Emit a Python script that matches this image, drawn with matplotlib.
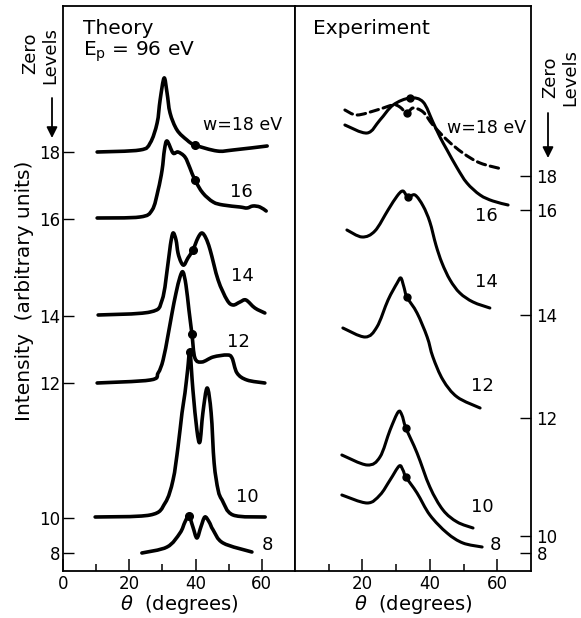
import numpy as np
import matplotlib.pyplot as plt
from matplotlib.path import Path
from matplotlib.patches import PathPatch, FancyArrowPatch

plt.rcParams['font.family'] = ['DejaVu Sans']
plt.rcParams['mathtext.fontset'] = 'dejavusans'

# ---- zero levels (plot units) and their labels ----
level_labels = ['18', '16', '14', '12', '10', '8']
theory_zero = [419, 352, 255, 188, 53, 18]
exper_zero = [395, 361, 256, 153, 35, 18]

# ---- Theory curves: angle (deg), intensity above zero level ----
t18_theta = [10.3, 23.2, 26.3, 28.4, 29.3, 30.5, 31.4, 32.3, 34.4, 37.4, 39.8, 46.5, 51.3, 61.6]
t18_int = [0, 2, 9, 29, 52, 74, 59, 39, 22, 12, 7, 1, 2, 6]
t16_theta = [10.3, 23.2, 26.9, 28.7, 29.9, 30.6, 31.4, 33.2, 34.7, 36.8, 38.3, 39.8, 42.2,
             45.3, 48.3, 53.4, 55.5, 57.3, 59.4, 61.3]
t16_int = [1, 2, 9, 29, 49, 69, 78, 66, 67, 62, 51, 39, 26, 17, 14, 12, 11, 13, 12, 8]
t14_theta = [10.6, 26.3, 29.9, 31.7, 32.4, 33.2, 34.1, 34.7, 35.6, 36.5, 37.7, 39.2, 40.7,
             41.9, 43.1, 44.4, 46.8, 49.5, 51.3, 53.4, 55.2, 57.9, 60.9]
t14_int = [1, 4, 16, 53, 71, 83, 76, 63, 54, 51, 58, 66, 78, 83, 78, 66, 36, 16, 11, 14, 16, 8, 3]
t12_theta = [10.3, 26.3, 28.7, 30.2, 31.7, 32.9, 34.1, 35.3, 36.2, 37.1, 38.0, 38.9, 39.8,
             41.9, 45.3, 49.5, 51.0, 52.5, 55.5, 60.9]
t12_int = [0, 3, 10, 23, 48, 70, 90, 106, 111, 98, 73, 49, 25, 21, 26, 28, 25, 10, 3, 0]
t10_theta = [9.7, 26.3, 30.8, 33.2, 34.7, 35.9, 36.8, 37.6, 38.3, 39.2, 40.4, 41.3, 42.2,
             43.5, 44.7, 45.6, 46.8, 48.0, 51.3, 61.0]
t10_int = [1, 3, 15, 38, 71, 105, 125, 148, 166, 128, 88, 76, 105, 130, 105, 55, 28, 18, 3, 1]
t8_theta = [23.8, 31.4, 35.3, 36.8, 38.0, 39.2, 40.4, 41.6, 42.8, 44.1, 45.3, 48.3, 57.0]
t8_int = [0, 6, 20, 31, 37, 26, 15, 26, 36, 31, 23, 10, 1]

# marked points on theory curves
t_dot_theta = [39.8, 39.8, 39.2, 38.9, 38.3, 38.0]
t_dot_int = [7, 39, 66, 49, 166, 37]

# ---- Experiment curves ----
e18_theta = [14.8, 18.4, 24.3, 29.1, 31.1, 33.2, 35.0, 38.0, 40.9, 45.1, 49.8, 54.9, 61.4]
e18_int = [66, 61, 66, 71, 69, 63, 68, 64, 51, 36, 23, 13, 7]
e16_theta = [14.8, 21.4, 25.2, 29.1, 34.1, 38.0, 40.9, 43.0, 45.1, 48.1, 51.0, 54.9, 58.7, 63.2]
e16_int = [85, 77, 90, 105, 112, 108, 88, 73, 60, 42, 27, 15, 9, 5]
e14_theta = [15.4, 19.9, 23.7, 27.6, 30.3, 32.0, 33.5, 35.6, 38.0, 40.0, 41.8, 43.6, 46.0,
             48.9, 52.8, 57.8]
e14_int = [85, 78, 84, 105, 119, 124, 118, 120, 109, 93, 70, 52, 35, 22, 13, 7]
e12_theta = [14.2, 20.8, 24.3, 27.6, 30.3, 31.4, 32.3, 33.2, 36.2, 39.2, 40.9, 43.9, 48.1, 54.9]
e12_int = [90, 81, 91, 118, 135, 140, 131, 121, 105, 81, 61, 38, 21, 10]
e10_theta = [13.9, 21.4, 25.2, 28.2, 30.6, 31.7, 32.9, 36.2, 40.0, 43.9, 48.1, 52.8]
e10_int = [81, 71, 79, 106, 124, 121, 108, 83, 49, 26, 14, 8]
e8_theta = [13.9, 21.4, 25.2, 28.2, 30.9, 32.0, 32.9, 36.2, 40.0, 45.1, 49.8, 55.5]
e8_int = [58, 50, 58, 73, 87, 83, 76, 60, 38, 20, 10, 6]

e_dot_theta = [33.2, 34.1, 33.5, 33.2, 32.9, 32.9]
e_dot_int = [63, 112, 118, 121, 108, 76]


def smooth_path(x, y):
    # Catmull-Rom curve through the read points, as cubic Bezier segments
    pts = np.column_stack([x, y]).astype(float)
    verts = [pts[0]]
    codes = [Path.MOVETO]
    n = len(pts)
    for i in range(n - 1):
        p0 = pts[i - 1] if i > 0 else pts[i]
        p1 = pts[i]
        p2 = pts[i + 1]
        p3 = pts[i + 2] if i + 2 < n else pts[i + 1]
        verts += [p1 + (p2 - p0) / 6, p2 - (p3 - p1) / 6, p2]
        codes += [Path.CURVE4] * 3
    return Path(verts, codes)


def draw_curve(ax, theta, inten, zero, lw, ls='-'):
    y = np.asarray(inten) + zero
    ax.add_patch(PathPatch(smooth_path(theta, y), fill=False, lw=lw, ls=ls,
                           edgecolor='black', capstyle='round', joinstyle='round'))


W, H = 581, 618
fig = plt.figure(figsize=(W / 100, H / 100), dpi=100)
ax1 = fig.add_axes([63 / W, 1 - 571 / H, 232 / W, 565 / H])
ax2 = fig.add_axes([295 / W, 1 - 571 / H, 236 / W, 565 / H])

for ax in (ax1, ax2):
    ax.set_xlim(0, 70)
    ax.set_ylim(0, 565)
    for s in ax.spines.values():
        s.set_linewidth(1.3)
    ax.set_xticks([10, 30, 50], minor=True)
    ax.tick_params(axis='x', which='major', direction='in', length=9, width=1.1,
                   labelsize=12, pad=3)
    ax.tick_params(axis='x', which='minor', direction='in', length=5, width=1.1)
    ax.tick_params(axis='y', direction='in', length=8, width=1.0, labelsize=12)
    ax.set_xlabel(r'$\theta$  (degrees)', fontsize=14, labelpad=0)

ax1.set_xticks([0, 20, 40, 60])
ax2.set_xticks([20, 40, 60])
ax1.set_yticks(theory_zero)
ax1.set_yticklabels(level_labels)
ax1.tick_params(axis='y', pad=2)
ax2.yaxis.tick_right()
ax2.set_yticks(exper_zero)
ax2.set_yticklabels(level_labels)
ax2.tick_params(axis='y', pad=4)

# theory
theory = [(t18_theta, t18_int), (t16_theta, t16_int), (t14_theta, t14_int),
          (t12_theta, t12_int), (t10_theta, t10_int), (t8_theta, t8_int)]
for (th, it), z in zip(theory, theory_zero):
    draw_curve(ax1, th, it, z, lw=2.6)
ax1.plot(t_dot_theta, np.array(t_dot_int) + np.array(theory_zero), 'o', color='black', ms=5.5)

# experiment
draw_curve(ax2, e18_theta, e18_int, exper_zero[0], lw=2.2, ls=(0, (2.8, 1.6)))
exper = [(e16_theta, e16_int), (e14_theta, e14_int), (e12_theta, e12_int),
         (e10_theta, e10_int), (e8_theta, e8_int)]
for (th, it), z in zip(exper, exper_zero[1:]):
    draw_curve(ax2, th, it, z, lw=2.2)
ax2.plot(e_dot_theta, np.array(e_dot_int) + np.array(exper_zero), 'o', color='black', ms=5)

# curve labels
ax1.text(42.2, 446, 'w=18 eV', fontsize=12.5, ha='left', va='center')
for lab, (x, y) in zip(level_labels[1:], [(53.7, 379), (54.0, 295), (52.8, 229), (55.5, 74), (61.6, 26)]):
    ax1.text(x, y, lab, fontsize=13, ha='center', va='center')
ax2.text(45.1, 443, 'w=18 eV', fontsize=12.5, ha='left', va='center')
for lab, (x, y) in zip(level_labels[1:], [(56.7, 355), (56.7, 289), (55.5, 185), (55.5, 64), (59.6, 26)]):
    ax2.text(x, y, lab, fontsize=13, ha='center', va='center')

ax1.text(6.0, 543, 'Theory', fontsize=14.5, ha='left', va='center')
ax1.text(6.0, 519, r'E$_{\rm p}$ = 96 eV', fontsize=14.5, ha='left', va='center')
ax2.text(5.3, 543, 'Experiment', fontsize=14.5, ha='left', va='center')

# axis title and "Zero Levels" marks
fig.text(24 / W, 1 - 291 / H, 'Intensity  (arbitrary units)', rotation=90,
         fontsize=14.5, ha='center', va='center')
fig.text(30 / W, 1 - 53 / H, 'Zero', rotation=90, fontsize=13, ha='center', va='center')
fig.text(50 / W, 1 - 56 / H, 'Levels', rotation=90, fontsize=13, ha='center', va='center')
fig.text(550 / W, 1 - 77 / H, 'Zero', rotation=90, fontsize=13, ha='center', va='center')
fig.text(570 / W, 1 - 78 / H, 'Levels', rotation=90, fontsize=13, ha='center', va='center')
for x, y0, y1 in [(52, 98, 138), (548, 113, 158)]:
    fig.add_artist(FancyArrowPatch((x / W, 1 - y0 / H), (x / W, 1 - y1 / H),
                                   transform=fig.transFigure, arrowstyle='-|>',
                                   mutation_scale=16, lw=1.3, color='black',
                                   shrinkA=0, shrinkB=0))

fig.savefig('out.png', dpi=100)
